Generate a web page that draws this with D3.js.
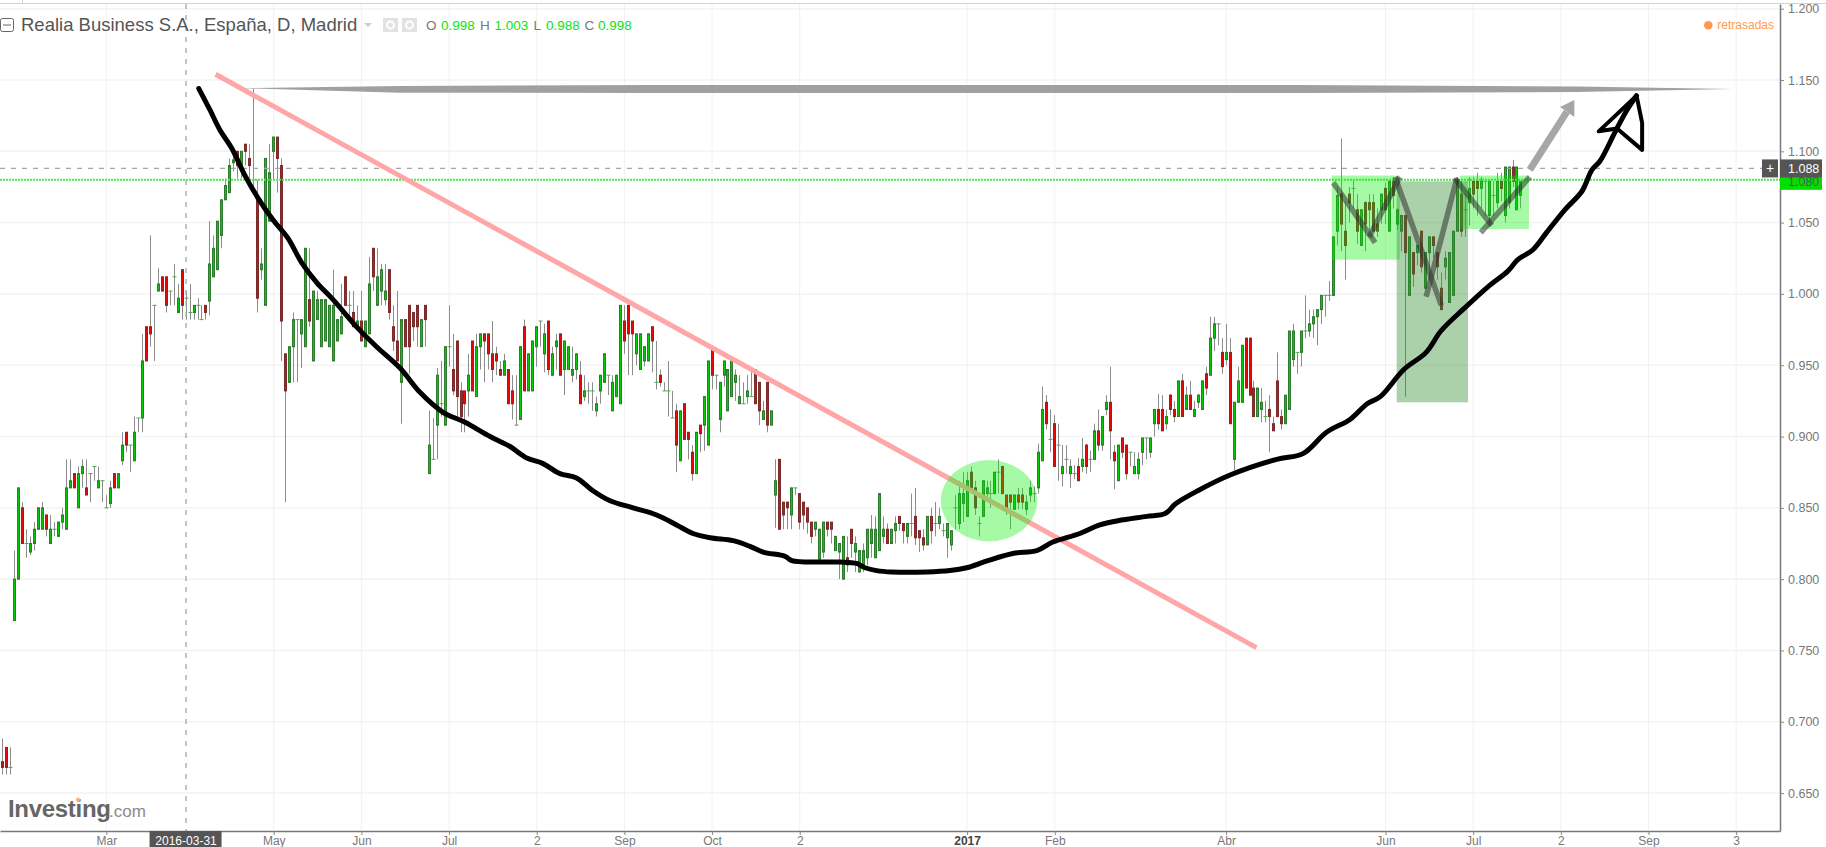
<!DOCTYPE html>
<html>
<head>
<meta charset="utf-8">
<title>Realia Business</title>
<script src="https://cdn.jsdelivr.net/npm/d3@7"></script>
<style>
  html, body { margin: 0; padding: 0; background: #fff; overflow: hidden; }
  text { font-family: "Liberation Sans", Arial, sans-serif; }
</style>
</head>
<body>
<div id="chart"></div>
<script>
const WIDTH = 1826;
const HEIGHT = 847;

// bar number of the first entry in the price arrays
const firstBar = -3;

const opens = [
  .672,.682,.668,.771,.800,.850,.825,.819,.825,.835,
  .835,.845,.825,.835,.830,.840,.835,.864,.874,.850,
  .874,.864,.874,.879,.864,.869,.850,.853,.874,.864,
  .883,.903,.894,.883,.913,.913,.977,.977,.992,1.002,
  1.012,1.012,1.002,1.012,.987,1.017,.997,.987,.987,.992,
  .982,.992,.995,1.012,1.017,1.041,1.066,1.071,1.092,1.100,
  1.090,1.105,1.095,1.080,1.066,1.017,.992,1.051,1.100,1.110,
  1.090,.958,.938,.963,.982,.972,.963,.996,.953,.982,
  .963,.967,.963,.953,.967,.972,1.012,.992,.987,.977,
  .981,.963,.972,1.032,.992,1.002,.996,1.017,.977,.967,
  .938,.982,.992,.987,.992,.963,.992,.874,.884,.908,
  .923,.908,.963,.947,.967,.932,.932,.932,.967,.928,
  .963,.972,.972,.958,.958,.947,.943,.947,.932,.908,
  .912,.977,.932,.932,.963,.981,.958,.981,.943,.963,
  .972,.947,.947,.943,.947,.943,.928,.932,.932,.918,
  .932,.938,.943,.918,.928,.923,.981,.992,.981,.958,
  .947,.953,.953,.977,.938,.943,.932,.932,.913,.918,
  .883,.923,.903,.889,.874,.908,.908,.894,.963,.943,
  .912,.943,.918,.928,.938,.923,.923,.928,.928,.947,
  .938,.912,.938,.908,.859,.884,.854,.854,.845,.864,
  .860,.854,.850,.840,.835,.814,.819,.840,.840,.820,
  .819,.800,.815,.835,.819,.805,.810,.815,.825,.815,
  .820,.830,.835,.825,.834,.844,.839,.830,.839,.844,
  .834,.829,.824,.844,.839,.839,.834,.829,.824,.850,
  .839,.853,.844,.875,.864,.839,.844,.860,.860,.860,
  .875,.879,.859,.859,.849,.859,.859,.849,.859,.860,
  .864,.883,.924,.898,.909,.894,.874,.884,.874,.874,
  .879,.879,.894,.884,.884,.904,.894,.919,.924,.889,
  .869,.899,.894,.889,.874,.874,.889,.899,.889,.909,
  .919,.919,.909,.929,.919,.914,.939,.919,.929,.914,
  .924,.919,.944,.943,.969,.979,.959,.954,.959,.884,
  .924,.924,.969,.969,.934,.914,.919,.914,.919,.909,
  .939,.914,.909,.919,.954,.959,.959,.974,.974,.979,
  .984,.989,.999,.999,.999,1.044,1.070,1.044,1.070,1.074,
  1.059,1.034,1.064,1.064,1.064,1.049,1.059,1.074,1.044,1.079,
  1.049,1.044,1.055,.999,1.029,1.029,1.044,1.004,1.029,1.040,
  1.029,1.004,1.019,.994,.999,1.044,1.070,1.059,1.064,1.079,
  1.079,1.074,1.079,1.055,1.069,1.064,1.079,1.055,1.064,1.089,
  1.059,1.069
];

const highs = [
  .688,.682,.682,.820,.864,.854,.835,.830,.840,.850,
  .854,.845,.845,.840,.840,.850,.884,.884,.874,.879,
  .884,.884,.874,.879,.879,.869,.859,.869,.874,.874,
  .903,.903,.894,.914,.913,.972,.977,1.041,.992,1.018,
  1.012,1.012,1.002,1.021,1.007,1.017,1.002,1.007,.992,.997,
  .992,.992,1.051,1.041,1.051,1.066,1.081,1.095,1.099,1.100,
  1.100,1.105,1.105,1.144,1.080,1.032,1.095,1.105,1.110,1.110,
  1.095,.958,.963,.987,.982,.982,1.032,1.032,1.002,1.002,
  .996,.996,.992,1.017,.982,1.007,1.012,1.002,1.002,.992,
  1.002,.981,1.026,1.032,1.032,1.021,1.021,1.017,.992,1.002,
  .982,.982,.992,.987,.992,.982,.992,.918,.913,.948,
  .953,.963,.992,.972,.967,.938,.932,.958,.967,.972,
  .972,.972,.972,.981,.963,.953,.958,.947,.943,.943,
  .963,.982,.958,.967,.977,.981,.979,.981,.963,.972,
  .972,.967,.963,.963,.958,.953,.943,.938,.938,.928,
  .943,.958,.943,.943,.943,.992,.992,.992,.981,.972,
  .972,.963,.972,.977,.967,.947,.938,.953,.932,.923,
  .918,.923,.903,.894,.903,.908,.928,.953,.963,.943,
  .938,.953,.947,.953,.947,.943,.938,.943,.947,.947,
  .938,.925,.938,.918,.884,.884,.854,.854,.864,.864,
  .860,.854,.850,.840,.840,.835,.840,.840,.840,.830,
  .825,.830,.830,.835,.830,.820,.825,.835,.845,.844,
  .860,.844,.839,.835,.844,.844,.839,.839,.860,.864,
  .834,.835,.844,.850,.854,.850,.839,.839,.834,.859,
  .869,.875,.875,.879,.869,.844,.869,.869,.869,.875,
  .884,.879,.859,.859,.859,.864,.864,.859,.869,.865,
  .895,.935,.929,.919,.915,.909,.894,.894,.884,.880,
  .885,.899,.895,.890,.909,.919,.914,.929,.949,.894,
  .894,.899,.894,.889,.889,.889,.899,.899,.899,.919,
  .930,.929,.919,.930,.925,.939,.944,.935,.939,.925,
  .930,.939,.949,.984,.984,.979,.969,.979,.969,.924,
  .949,.964,.969,.969,.939,.934,.934,.925,.929,.914,
  .959,.919,.929,.974,.979,.959,.974,.999,.989,.989,
  .989,.999,.999,1.009,1.040,1.075,1.109,1.065,1.075,1.080,
  1.070,1.059,1.065,1.070,1.070,1.060,1.070,1.078,1.079,1.082,
  1.060,1.055,1.055,1.040,1.029,1.034,1.044,1.029,1.040,1.040,
  1.029,1.015,1.030,1.029,1.044,1.082,1.080,1.070,1.082,1.082,
  1.085,1.082,1.079,1.079,1.079,1.085,1.085,1.089,1.089,1.094,
  1.089,1.079
];

const lows = [
  .663,.663,.663,.771,.800,.825,.815,.817,.820,.835,
  .835,.830,.825,.830,.830,.835,.835,.864,.864,.850,
  .864,.859,.854,.869,.864,.854,.850,.850,.864,.864,
  .880,.889,.875,.883,.903,.903,.953,.963,.953,1.002,
  1.002,.987,.992,.992,.987,.982,.982,.982,.982,.982,
  .982,.982,.985,1.012,1.017,1.032,1.066,1.071,1.086,1.081,
  1.081,1.090,1.081,1.070,.987,1.010,.992,1.051,1.080,1.071,
  .953,.854,.938,.938,.938,.948,.963,.977,.953,.982,
  .963,.967,.963,.953,.967,.972,.992,.982,.977,.977,
  .967,.963,.972,1.002,.992,.992,.992,.982,.960,.953,
  .909,.963,.944,.967,.963,.963,.963,.874,.884,.884,
  .914,.908,.949,.929,.914,.903,.903,.914,.932,.928,
  .947,.938,.947,.938,.943,.943,.943,.923,.912,.908,
  .912,.932,.932,.932,.949,.963,.945,.943,.943,.947,
  .943,.929,.947,.938,.940,.923,.925,.923,.918,.914,
  .923,.938,.929,.918,.928,.923,.958,.943,.943,.950,
  .947,.949,.953,.945,.933,.935,.932,.914,.913,.875,
  .883,.898,.884,.869,.874,.889,.890,.894,.933,.933,
  .903,.935,.918,.928,.925,.923,.923,.923,.928,.923,
  .908,.912,.903,.908,.836,.835,.835,.835,.835,.859,
  .835,.835,.832,.825,.830,.814,.815,.830,.825,.820,
  .800,.800,.805,.815,.805,.805,.805,.810,.815,.815,
  .820,.825,.825,.825,.825,.834,.825,.825,.830,.824,
  .819,.820,.824,.825,.830,.835,.830,.815,.820,.835,
  .835,.840,.844,.860,.845,.830,.844,.855,.850,.860,
  .860,.860,.845,.835,.849,.849,.849,.845,.854,.854,
  .860,.883,.905,.889,.879,.869,.865,.874,.864,.870,
  .869,.875,.874,.875,.884,.890,.890,.915,.884,.863,
  .869,.885,.870,.879,.874,.870,.880,.884,.885,.900,
  .905,.904,.905,.915,.910,.914,.914,.919,.919,.914,
  .920,.919,.929,.943,.960,.964,.944,.950,.909,.876,
  .924,.924,.934,.929,.914,.914,.910,.910,.889,.904,
  .914,.905,.909,.919,.949,.944,.949,.969,.970,.969,
  .964,.979,.984,.995,.999,1.034,1.030,1.010,1.050,1.060,
  1.035,1.034,1.030,1.045,1.044,1.040,1.049,1.049,1.044,1.060,
  1.045,1.030,.928,.999,1.005,1.020,1.015,1.004,1.010,1.025,
  1.010,.989,1.010,.994,.999,1.044,1.040,1.040,1.048,1.060,
  1.055,1.060,1.055,1.048,1.055,1.060,1.065,1.050,1.060,1.075,
  1.059,1.060
];

const closes = [
  .668,.668,.668,.800,.864,.825,.825,.825,.835,.850,
  .850,.835,.835,.835,.840,.845,.864,.869,.864,.874,
  .879,.859,.874,.879,.869,.869,.850,.864,.864,.874,
  .894,.894,.894,.903,.913,.953,.953,.972,.992,1.007,
  1.002,.992,1.002,1.012,.997,.992,.997,.987,.992,.992,
  .982,.987,1.021,1.032,1.051,1.066,1.076,1.090,1.094,1.090,
  1.100,1.100,1.090,1.080,.997,1.021,1.095,1.085,1.110,1.095,
  .981,.932,.963,.982,.982,.982,1.032,.981,1.002,.996,
  .996,.996,.992,.992,.982,.984,.992,.992,.977,.981,
  .967,.981,1.007,1.012,1.012,1.017,1.002,.987,.967,.953,
  .982,.963,.963,.977,.977,.982,.982,.894,.884,.943,
  .923,.963,.963,.932,.928,.914,.923,.943,.932,.963,
  .972,.967,.958,.947,.953,.943,.953,.923,.923,.908,
  .963,.932,.958,.967,.977,.981,.972,.947,.958,.967,
  .943,.967,.963,.947,.958,.923,.932,.932,.932,.923,
  .943,.958,.943,.938,.943,.992,.967,.972,.972,.972,
  .972,.963,.972,.967,.938,.938,.932,.932,.913,.894,
  .918,.898,.898,.874,.903,.902,.928,.953,.943,.943,
  .938,.953,.947,.953,.943,.928,.923,.932,.928,.923,
  .918,.918,.908,.918,.869,.835,.845,.850,.864,.864,
  .840,.845,.840,.830,.840,.835,.840,.835,.835,.830,
  .825,.830,.810,.825,.825,.820,.820,.835,.835,.835,
  .860,.835,.825,.835,.839,.839,.834,.839,.839,.829,
  .829,.824,.844,.834,.839,.844,.834,.839,.834,.850,
  .860,.860,.869,.864,.850,.839,.869,.864,.860,.875,
  .875,.860,.849,.854,.859,.854,.854,.854,.864,.860,
  .889,.919,.909,.898,.879,.894,.879,.884,.879,.874,
  .869,.884,.879,.884,.904,.894,.914,.924,.904,.883,
  .894,.889,.874,.889,.879,.884,.899,.899,.899,.919,
  .909,.904,.914,.919,.914,.939,.914,.929,.919,.919,
  .929,.939,.934,.969,.979,.979,.949,.959,.909,.924,
  .939,.964,.934,.929,.914,.934,.924,.914,.914,.904,
  .914,.909,.929,.974,.974,.959,.974,.974,.979,.984,
  .989,.999,.999,.999,1.040,1.069,1.049,1.034,1.064,1.074,
  1.044,1.059,1.049,1.059,1.044,1.044,1.070,1.059,1.079,1.069,
  1.059,1.055,1.029,1.040,1.014,1.034,1.019,1.029,1.040,1.034,
  1.019,.989,1.025,1.029,1.044,1.079,1.044,1.059,1.074,1.070,
  1.074,1.079,1.079,1.079,1.069,1.079,1.074,1.089,1.089,1.079,
  1.089,1.079
];

// axes
const yTicks = [1.2, 1.15, 1.1, 1.05, 1, .95, .9, .85, .8, .75, .7, .65];
const xTickBars = [23, 65, 87, 109, 131, 153, 175, 197, 239, 261, 304, 344, 366, 388, 410, 432];
const xTickLabels = ['Mar', 'May', 'Jun', 'Jul', '2', 'Sep', 'Oct', '2', '2017', 'Feb', 'Abr', 'Jun', 'Jul', '2', 'Sep', '3'];

// crosshair and last price
const crossBar = 43;
const crossDate = '2016-03-31';
const crossPrice = 1.088;
const lastPrice = 1.08;

// hand drawn annotations, [bar, price]
const bowlCurve = [
  [46.2,1.144],[49,1.129],[51.5,1.115],[54.5,1.102],[57.8,1.083],[61.1,1.067],[64.8,1.052],[68.6,1.039],
  [72,1.022],[75.8,1.008],[79.9,.996],[86.1,.976],[90.8,.963],[96.7,.948],[101.7,.931],[107.5,.917],
  [113,.91],[119.3,.9],[124.3,.893],[128.5,.885],[132.6,.881],[136.8,.874],[141,.871],[145.1,.862],
  [149.4,.855],[155.2,.85],[161.1,.845],[166.1,.838],[170.2,.832],[174.5,.829],[180.3,.827],[184.5,.823],
  [187.8,.819],[193.3,.816],[195,.813],[202,.812],[207.1,.812],[211.3,.811],[213.4,.808],[216.3,.806],
  [220.1,.805],[228.9,.805],[234.7,.806],[238.9,.808],[244.2,.813],[250.5,.818],[256.5,.82],[260.5,.826],
  [267.3,.832],[272.3,.838],[276.9,.841],[284.1,.844],[288.7,.846],[291.4,.853],[296.9,.862],[305,.873],
  [316.7,.884],[323.3,.888],[329.2,.903],[335.1,.912],[339.4,.923],[342.7,.928],[348.6,.947],[354.2,.959],
  [357.9,.974],[363.8,.99],[369.7,1.005],[374.7,1.016],[377.2,1.024],[381,1.031],[384.4,1.043],[389,1.059],
  [393.3,1.072],[395.8,1.087],[397.8,1.093],[401.7,1.114],[404.6,1.129],[407,1.139]
];
const bowlHead = [[407,1.139],[401.3,1.124],[397.5,1.114],[402.1,1.116],[408.4,1.101],[408.4,1.12],[407,1.139]];
const trendLine = [[50.4,1.154],[311.6,.752]];
const resistance = [
  [57,1.1442],[96.7,1.1458],[159.4,1.1465],[322.5,1.1465],[392,1.1454],[431.2,1.1437],
  [392,1.1416],[322.5,1.1409],[159.4,1.1409],[96.7,1.1411]
];
const greyShaft = [[380.2,1.087],[389.5,1.1276]];
const greyHead = [[387.8,1.131],[391.4,1.136],[391.4,1.124]];
const zigzags = [
  [[330.9,1.078],[341.4,1.036]],
  [[339.9,1.04],[347.6,1.082]],
  [[346.4,1.082],[358,.992]],
  [[354.2,.998],[361.9,1.081]],
  [[361.4,1.081],[370.7,1.048]],
  [[367.9,1.043],[380.2,1.082]]
];
// bar from, bar to, price top, price bottom
const lightBoxes = [[330.5,347.6,1.083,1.024],[362.7,380,1.083,1.0455]];
const darkBox = [346.8,364.7,1.079,.924];
// bar, price, radius in bars, radius in price
const circle = [244.5,.855,12.1,.0285];

const svg = d3.select('#chart')
  .append('svg')
    .attr('width', WIDTH)
    .attr('height', HEIGHT)
    .style('display', 'block');

const x = d3.scaleLinear().domain([-3.69, 443]).range([0, 1780]);
const y = d3.scaleLinear().domain([.6234, 1.2033]).range([831, 4]);

const bars = opens.map((o, i) => ({bar: i + firstBar, o, h: highs[i], l: lows[i], c: closes[i]}));

// top strip of the widget
svg.append('line').attr('x1', 0).attr('x2', WIDTH).attr('y1', 3.5).attr('y2', 3.5).style('stroke', '#d2d2d2');
svg.append('line').attr('x1', 22.5).attr('x2', 22.5).attr('y1', 0).attr('y2', 3).style('stroke', '#d2d2d2');

// grid
const grid = svg.append('g');
grid.selectAll('.h').data(yTicks).enter().append('line')
  .attr('x1', 0).attr('x2', 1780)
  .attr('y1', d => y(d)).attr('y2', d => y(d))
  .style('stroke', '#f3f3f3').style('stroke-width', 1.5);
grid.selectAll('.v').data(xTickBars).enter().append('line')
  .attr('x1', d => x(d)).attr('x2', d => x(d))
  .attr('y1', 4).attr('y2', 831)
  .style('stroke', '#f1f1f1');

// candles
const candles = svg.append('g').selectAll('g').data(bars).enter().append('g')
  .attr('transform', d => `translate(${Math.floor(x(d.bar)) + 0.5},0)`);
candles.append('line')
  .attr('y1', d => y(d.h)).attr('y2', d => y(d.l))
  .style('stroke', '#8c8c8c');
candles.filter(d => d.o !== d.c).append('rect')
  .attr('x', -1).attr('width', 2)
  .attr('y', d => y(Math.max(d.o, d.c)))
  .attr('height', d => Math.abs(y(d.o) - y(d.c)))
  .style('fill', d => d.c > d.o ? '#08c808' : '#e80808')
  .style('stroke', d => d.c > d.o ? '#2a7d2a' : '#7d2a2a');
candles.filter(d => d.o === d.c).append('line')
  .attr('x1', -2).attr('x2', 2)
  .attr('y1', d => y(d.c)).attr('y2', d => y(d.c))
  .style('stroke', '#3fae3f');

// crosshair + last price
svg.append('line')
  .attr('x1', x(crossBar)).attr('x2', x(crossBar)).attr('y1', 4).attr('y2', 831)
  .style('stroke', '#a5a5a5').style('stroke-width', 1.3).style('stroke-dasharray', '5,6');
svg.append('line')
  .attr('x1', 0).attr('x2', 1780).attr('y1', y(crossPrice)).attr('y2', y(crossPrice))
  .style('stroke', '#a5a5a5').style('stroke-width', 1.3).style('stroke-dasharray', '5,6');
svg.append('line')
  .attr('x1', 0).attr('x2', 1780).attr('y1', y(lastPrice)).attr('y2', y(lastPrice))
  .style('stroke', '#4de84d').style('stroke-width', 2).style('stroke-dasharray', '2,1');

const line = d3.line().x(d => x(d[0])).y(d => y(d[1]));
const smooth = d3.line().x(d => x(d[0])).y(d => y(d[1])).curve(d3.curveCatmullRom);

// drawings
svg.append('path').attr('d', line(trendLine))
  .style('fill', 'none').style('stroke', '#ffa6a6').style('stroke-width', 5);
svg.append('path').attr('d', line(resistance) + 'Z').style('fill', '#a0a0a0');

svg.append('ellipse')
  .attr('cx', x(circle[0])).attr('cy', y(circle[1]))
  .attr('rx', x(circle[0] + circle[2]) - x(circle[0]))
  .attr('ry', y(circle[1] - circle[3]) - y(circle[1]))
  .style('fill', 'rgb(0,240,0)').style('opacity', .35);

svg.selectAll('.lightbox').data(lightBoxes).enter().append('rect')
  .attr('class', 'lightbox')
  .attr('x', d => x(d[0])).attr('width', d => x(d[1]) - x(d[0]))
  .attr('y', d => y(d[2])).attr('height', d => y(d[3]) - y(d[2]))
  .style('fill', 'rgb(0,240,0)').style('opacity', .35);
svg.append('rect')
  .attr('x', x(darkBox[0])).attr('width', x(darkBox[1]) - x(darkBox[0]))
  .attr('y', y(darkBox[2])).attr('height', y(darkBox[3]) - y(darkBox[2]))
  .style('fill', 'rgb(46,139,46)').style('opacity', .4);

svg.selectAll('.zig').data(zigzags).enter().append('path')
  .attr('class', 'zig')
  .attr('d', line)
  .style('fill', 'none').style('stroke', 'rgb(50,50,50)').style('stroke-width', 5.5).style('opacity', .55);

svg.append('path').attr('d', line(greyShaft))
  .style('fill', 'none').style('stroke', '#a6a6a6').style('stroke-width', 7);
svg.append('path').attr('d', line(greyHead) + 'Z').style('fill', '#a6a6a6');

svg.append('path').attr('d', smooth(bowlCurve))
  .style('fill', 'none').style('stroke', '#000').style('stroke-width', 5)
  .style('stroke-linejoin', 'round').style('stroke-linecap', 'round');
svg.append('path').attr('d', line(bowlHead))
  .style('fill', 'none').style('stroke', '#000').style('stroke-width', 4)
  .style('stroke-linejoin', 'round').style('stroke-linecap', 'round');

// axes
const yAxis = d3.axisRight(y).tickValues(yTicks).tickFormat(d3.format('.3f')).tickSize(4).tickSizeOuter(0);
const xAxis = d3.axisBottom(x).tickValues(xTickBars).tickFormat(d => xTickLabels[xTickBars.indexOf(d)]).tickSize(4).tickSizeOuter(0);

const yAxisG = svg.append('g').attr('transform', 'translate(1780,0)').call(yAxis);
const xAxisG = svg.append('g').attr('transform', 'translate(0,831)').call(xAxis);
[yAxisG, xAxisG].forEach(g => {
  g.select('.domain').style('stroke', '#777').style('stroke-width', 1.5);
  g.selectAll('.tick line').style('stroke', '#888');
  g.selectAll('text').style('fill', '#777').style('font-family', '"Liberation Sans", Arial, sans-serif');
});
yAxisG.selectAll('text').attr('x', 8).style('font-size', '12.5px');
xAxisG.selectAll('text').attr('y', 5).style('font-size', '12px');
xAxisG.selectAll('.tick').filter(d => d === 239).select('text').style('font-weight', 'bold').style('fill', '#444');

// crosshair date
svg.append('rect').attr('x', x(crossBar) - 36.5).attr('y', 831).attr('width', 72).attr('height', 16).style('fill', '#555');
svg.append('text').attr('x', x(crossBar)).attr('y', 844.5).attr('text-anchor', 'middle')
  .style('font-size', '12px').style('fill', '#fff').text(crossDate);

// price labels
svg.append('rect').attr('x', 1780).attr('y', y(lastPrice) - 9).attr('width', 42).attr('height', 19).style('fill', '#00e000');
svg.append('text').attr('x', 1788).attr('y', y(lastPrice) + 6)
  .style('font-size', '12.5px').style('fill', '#555').text(d3.format('.3f')(lastPrice));
svg.append('rect').attr('x', 1780).attr('y', y(crossPrice) - 9).attr('width', 42).attr('height', 18).style('fill', '#555');
svg.append('text').attr('x', 1788).attr('y', y(crossPrice) + 4.5)
  .style('font-size', '12.5px').style('fill', '#fff').text(d3.format('.3f')(crossPrice));
svg.append('rect').attr('x', 1762).attr('y', y(crossPrice) - 9).attr('width', 16).attr('height', 18).style('fill', '#555');
svg.append('text').attr('x', 1770).attr('y', y(crossPrice) + 5).attr('text-anchor', 'middle')
  .style('font-size', '14px').style('fill', '#fff').text('+');

// header
svg.append('rect').attr('x', 0.5).attr('y', 18.5).attr('width', 13).attr('height', 13).attr('rx', 2)
  .style('fill', '#fff').style('stroke', '#666');
svg.append('line').attr('x1', 3).attr('x2', 11).attr('y1', 25).attr('y2', 25).style('stroke', '#666');
svg.append('text').attr('x', 21).attr('y', 31)
  .style('font-size', '18.5px').style('fill', '#555')
  .text('Realia Business S.A., España, D, Madrid');
svg.append('path').attr('d', 'M364,23h8l-4,4Z').style('fill', '#ccc');
svg.append('rect').attr('x', 383).attr('y', 18).attr('width', 15).attr('height', 14).style('fill', '#e2e2e2');
svg.append('circle').attr('cx', 390.5).attr('cy', 25).attr('r', 3.5).style('fill', 'none').style('stroke', '#fff').style('stroke-width', 2);
svg.append('rect').attr('x', 402).attr('y', 18).attr('width', 15).attr('height', 14).style('fill', '#e2e2e2');
svg.append('circle').attr('cx', 409.5).attr('cy', 25).attr('r', 3.5).style('fill', 'none').style('stroke', '#fff').style('stroke-width', 2);

const ohlcNames = ['O', 'H', 'L', 'C'];
const ohlcValues = ['0.998', '1.003', '0.988', '0.998'];
const ohlcNameX = [426, 480, 533.5, 584.5];
const ohlcValueX = [441, 494.5, 546, 598];
ohlcNames.forEach((n, i) => {
  svg.append('text').attr('x', ohlcNameX[i]).attr('y', 30).style('font-size', '13.5px').style('fill', '#777').text(n);
  svg.append('text').attr('x', ohlcValueX[i]).attr('y', 30).style('font-size', '13.5px').style('fill', '#14e014').text(ohlcValues[i]);
});

svg.append('circle').attr('cx', 1708.3).attr('cy', 25.3).attr('r', 4.3).style('fill', '#ff9a4d');
svg.append('text').attr('x', 1717.3).attr('y', 29)
  .style('font-size', '12px').style('fill', '#ff9a4d').text('retrasadas');

// logo
svg.append('text').attr('x', 8).attr('y', 817)
  .style('font-size', '24px').style('font-weight', 'bold').style('letter-spacing', '-0.3px').style('fill', '#666')
  .text('Investing');
svg.append('text').attr('x', 109).attr('y', 817)
  .style('font-size', '17px').style('fill', '#8a8a8a').text('.com');
svg.append('circle').attr('cx', 78).attr('cy', 799.5).attr('r', 2).style('fill', '#ffb27a');
</script>
</body>
</html>
